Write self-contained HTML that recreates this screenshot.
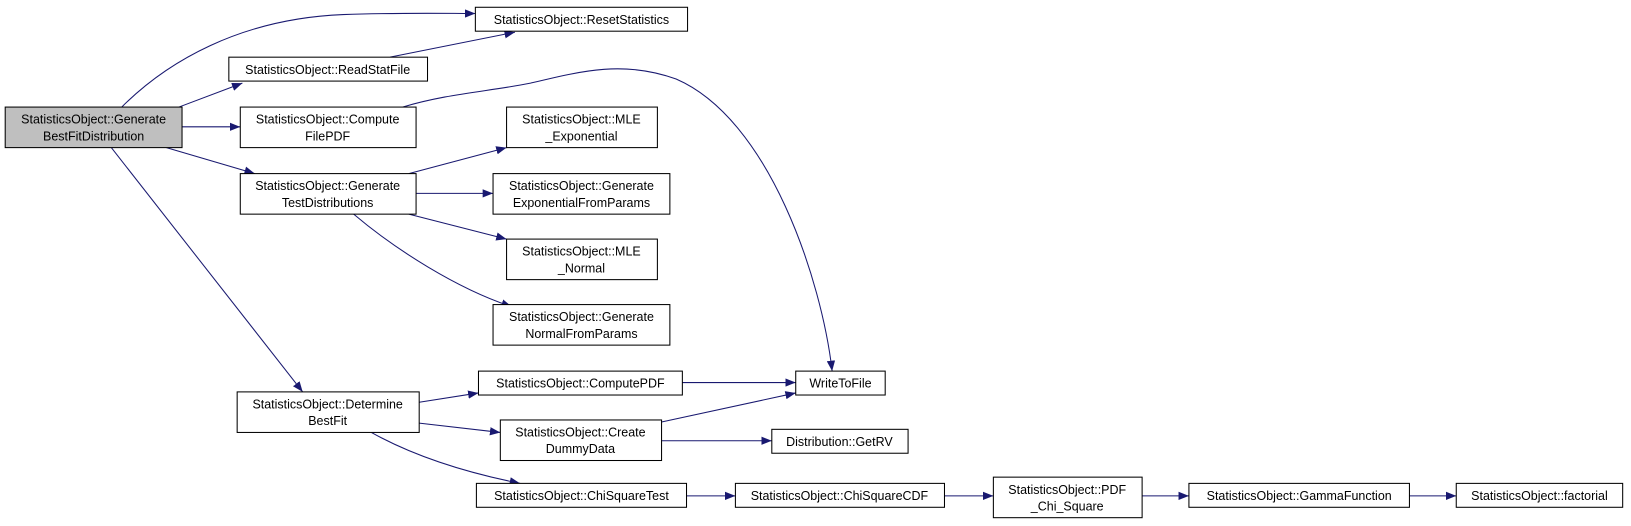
<!DOCTYPE html>
<html><head><meta charset="utf-8"><style>
html,body{margin:0;padding:0;background:#fff;width:1631px;height:526px;overflow:hidden}
svg{display:block}
text{font-family:"Liberation Sans",Arial,sans-serif;font-size:12px;fill:#000;text-anchor:middle}
rect{fill:#fff;stroke:#000;stroke-width:1}
path{fill:none;stroke:#191970;stroke-width:1}
</style></head><body>
<svg width="1631" height="526" viewBox="0 0 1568 506" preserveAspectRatio="none">
<defs><marker id="a" markerWidth="11" markerHeight="8" refX="10" refY="4" orient="auto" markerUnits="userSpaceOnUse"><polygon points="0,0 10,4 0,8" fill="#191970"/></marker></defs>
<g marker-end="url(#a)">
<path d="M117,103 C160,60 230,18 330,14 C390,12 430,13 457,13"/>
<path d="M172,103 L233,80"/>
<path d="M375,55 L495,31"/>
<path d="M175,122 L231,122"/>
<path d="M387,103 C430,90 470,88 510,80 C560,68 600,58 650,76 C740,115 790,270 800,357"/>
<path d="M160,142 L245,167"/>
<path d="M107,142 L291,377"/>
<path d="M393,167 L487,142"/>
<path d="M400,186 L474,186"/>
<path d="M393,206 L487,230"/>
<path d="M340,206 C380,240 440,278 492,295"/>
<path d="M403,387 L460,378"/>
<path d="M403,407 L481,416"/>
<path d="M357,416 C400,440 450,455 500,465"/>
<path d="M656,368 L765,368"/>
<path d="M636,406 L765,378"/>
<path d="M636,424 L742,424"/>
<path d="M660,477 L707,477"/>
<path d="M908,477 L955,477"/>
<path d="M1098,477 L1143,477"/>
<path d="M1355,477 L1400,477"/>
</g>
<rect x="5" y="103" width="170" height="39" style="fill:#bfbfbf"/>
<text x="90" y="119">StatisticsObject::Generate</text><text x="90" y="135">BestFitDistribution</text>
<rect x="457" y="7" width="204" height="23"/><text x="559" y="23">StatisticsObject::ResetStatistics</text>
<rect x="220" y="55" width="191" height="23"/><text x="315" y="71">StatisticsObject::ReadStatFile</text>
<rect x="231" y="103" width="169" height="39"/><text x="315" y="119">StatisticsObject::Compute</text><text x="315" y="135">FilePDF</text>
<rect x="231" y="167" width="169" height="39"/><text x="315" y="183">StatisticsObject::Generate</text><text x="315" y="199">TestDistributions</text>
<rect x="487" y="103" width="145" height="39"/><text x="559" y="119">StatisticsObject::MLE</text><text x="559" y="135">_Exponential</text>
<rect x="474" y="167" width="170" height="39"/><text x="559" y="183">StatisticsObject::Generate</text><text x="559" y="199">ExponentialFromParams</text>
<rect x="487" y="230" width="145" height="39"/><text x="559" y="246">StatisticsObject::MLE</text><text x="559" y="262">_Normal</text>
<rect x="474" y="293" width="170" height="39"/><text x="559" y="309">StatisticsObject::Generate</text><text x="559" y="325">NormalFromParams</text>
<rect x="228" y="377" width="175" height="39"/><text x="315" y="393">StatisticsObject::Determine</text><text x="315" y="409">BestFit</text>
<rect x="460" y="357" width="196" height="23"/><text x="558" y="373">StatisticsObject::ComputePDF</text>
<rect x="765" y="357" width="86" height="23"/><text x="808" y="373">WriteToFile</text>
<rect x="481" y="404" width="155" height="39"/><text x="558" y="420">StatisticsObject::Create</text><text x="558" y="436">DummyData</text>
<rect x="742" y="413" width="131" height="23"/><text x="807" y="429">Distribution::GetRV</text>
<rect x="458" y="465" width="202" height="23"/><text x="559" y="481">StatisticsObject::ChiSquareTest</text>
<rect x="707" y="465" width="201" height="23"/><text x="807" y="481">StatisticsObject::ChiSquareCDF</text>
<rect x="955" y="459" width="143" height="39"/><text x="1026" y="475">StatisticsObject::PDF</text><text x="1026" y="491">_Chi_Square</text>
<rect x="1143" y="465" width="212" height="23"/><text x="1249" y="481">StatisticsObject::GammaFunction</text>
<rect x="1400" y="465" width="160" height="23"/><text x="1480" y="481">StatisticsObject::factorial</text>
</svg>
</body></html>
